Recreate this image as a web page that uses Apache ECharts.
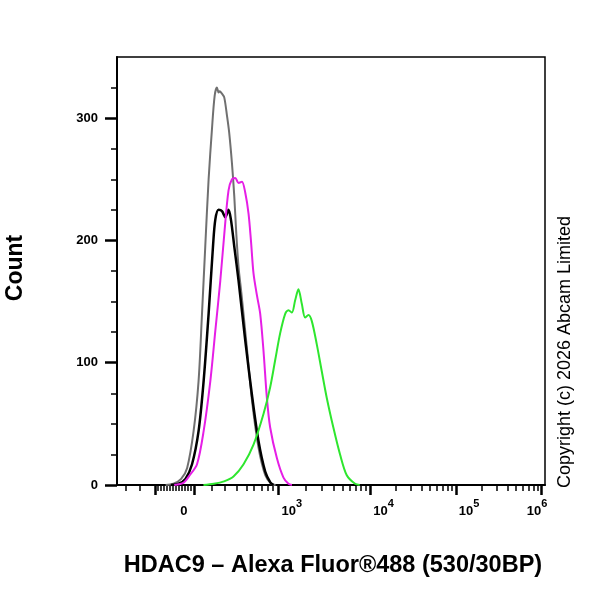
<!DOCTYPE html>
<html>
<head>
<meta charset="utf-8">
<script src="https://cdn.jsdelivr.net/npm/echarts@6/dist/echarts.min.js"></script>
<style>
  html, body { margin: 0; padding: 0; background: #fff; }
  #chart { width: 600px; height: 600px; }
</style>
</head>
<body>
<div id="chart"></div>
<script>
// x is in display units: 10^3 -> ~2.93, 10^4 -> 4, 10^5 -> 5, 10^6 -> 6 (biexponential display)
const xMin = 1.053
const xMax = 6.038

// [x, count] pairs
const grayData = [
  [1.62, 0], [1.71, 1], [1.80, 5], [1.87, 14], [1.945, 44], [2.003, 85], [2.043, 140],
  [2.081, 195], [2.12, 250], [2.159, 291], [2.19, 318], [2.217, 325], [2.236, 321],
  [2.248, 322], [2.276, 320], [2.302, 317], [2.334, 302], [2.36, 288], [2.392, 263],
  [2.419, 236], [2.442, 206], [2.469, 178], [2.50, 158], [2.566, 112], [2.624, 70],
  [2.70, 31], [2.78, 8], [2.85, 1], [2.90, 0]
]
const blackData = [
  [1.68, 0], [1.77, 1], [1.85, 5], [1.927, 17], [2.003, 44], [2.062, 85], [2.12, 140],
  [2.171, 195], [2.198, 217], [2.236, 225], [2.276, 224], [2.314, 219], [2.352, 225],
  [2.38, 217], [2.419, 195], [2.469, 167], [2.547, 118], [2.624, 74], [2.701, 36],
  [2.779, 11], [2.84, 2], [2.876, 0]
]
const magentaData = [
  [1.72, 0], [1.83, 2], [1.90, 8], [1.985, 17], [2.062, 44], [2.14, 85], [2.198, 126],
  [2.256, 167], [2.306, 208], [2.352, 241], [2.392, 250], [2.43, 251], [2.469, 247],
  [2.508, 248], [2.547, 239], [2.585, 222], [2.613, 200], [2.643, 173], [2.683, 155],
  [2.721, 140], [2.759, 110], [2.799, 71], [2.837, 47], [2.915, 22], [2.992, 6],
  [3.05, 1], [3.09, 0]
]
const greenData = [
  [2.06, 0], [2.18, 1], [2.30, 3], [2.41, 7], [2.527, 17], [2.643, 33], [2.759, 58], [2.837, 80],
  [2.895, 102], [2.953, 124], [3.012, 140], [3.05, 143], [3.09, 141], [3.128, 151],
  [3.166, 160], [3.206, 148], [3.244, 137], [3.283, 139], [3.322, 134], [3.38, 115],
  [3.438, 93], [3.497, 71], [3.573, 47], [3.651, 25], [3.729, 8], [3.826, 1], [3.88, 0]
]

// x axis ticks and labels
const xMajorTicks = [1.496, 1.95, 2.928, 4, 5, 6]
const xMinorTicks = [
  1.158, 1.321, 1.531, 1.566, 1.600, 1.635, 1.670, 1.705, 1.740, 1.775, 1.810, 1.845,
  1.880, 1.915, 2.156, 2.311, 2.447, 2.564, 2.649, 2.739, 2.812, 2.870,
  3.25, 3.44, 3.574, 3.678, 3.763, 3.834, 3.896, 3.951,
  4.301, 4.477, 4.602, 4.699, 4.778, 4.845, 4.903, 4.954,
  5.301, 5.477, 5.602, 5.699, 5.778, 5.845, 5.903, 5.954
]
const xLabelPos = [1.833, 3.088, 4.157, 5.153, 5.945]
const xLabelText = ['{n|0}', '{n|10}{s|3}', '{n|10}{s|4}', '{n|10}{s|5}', '{n|10}{s|6}']

const yMajorTicks = [0, 100, 200, 300]
const yMinorTicks = [25, 50, 75, 125, 150, 175, 225, 250, 275, 325]

const font = 'Liberation Sans, Arial, sans-serif'

const chart = echarts.init(document.getElementById('chart'))

function line(name, data, color, width) {
  return {
    name: name,
    type: 'line',
    data: data,
    showSymbol: false,
    smooth: 0.3,
    lineStyle: { color: color, width: width },
    itemStyle: { color: color }
  }
}

chart.setOption({
  animation: false,
  backgroundColor: '#fff',
  grid: {
    left: 117,
    right: 55,
    top: 57,
    bottom: 115,
    show: true,
    borderColor: '#000',
    borderWidth: 1.5
  },
  xAxis: [
    {
      type: 'value',
      position: 'bottom',
      min: xMin,
      max: xMax,
      axisLine: { show: true, onZero: false, lineStyle: { color: '#000', width: 2 } },
      axisTick: { show: true, customValues: xMajorTicks, length: 10, lineStyle: { color: '#000', width: 2.5 } },
      axisLabel: {
        show: true,
        customValues: xLabelPos,
        margin: 12,
        color: '#000',
        formatter: function (v) {
          let best = 0
          xLabelPos.forEach((p, i) => {
            if (Math.abs(p - v) < Math.abs(xLabelPos[best] - v)) best = i
          })
          return xLabelText[best]
        },
        rich: {
          n: { fontSize: 13, fontWeight: 'bold', fontFamily: font, color: '#000', padding: [8, 0, 0, 0] },
          s: { fontSize: 11, fontWeight: 'bold', fontFamily: font, color: '#000', padding: [0, 0, 8, 0] }
        }
      },
      splitLine: { show: false }
    },
    {
      type: 'value',
      position: 'bottom',
      offset: 0,
      min: xMin,
      max: xMax,
      axisLine: { show: false, onZero: false },
      axisTick: { show: true, customValues: xMinorTicks, length: 6, lineStyle: { color: '#000', width: 1.5 } },
      axisLabel: { show: false },
      splitLine: { show: false }
    }
  ],
  yAxis: [
    {
      type: 'value',
      position: 'left',
      min: 0,
      max: 350,
      axisLine: { show: true, onZero: false, lineStyle: { color: '#000', width: 2 } },
      axisTick: { show: true, customValues: yMajorTicks, length: 12, lineStyle: { color: '#000', width: 2.5 } },
      axisLabel: {
        show: true,
        customValues: yMajorTicks,
        margin: 19,
        color: '#000',
        fontSize: 13,
        fontWeight: 'bold',
        fontFamily: font
      },
      splitLine: { show: false }
    },
    {
      type: 'value',
      position: 'left',
      offset: 0,
      min: 0,
      max: 350,
      axisLine: { show: false, onZero: false },
      axisTick: { show: true, customValues: yMinorTicks, length: 6, lineStyle: { color: '#000', width: 1.5 } },
      axisLabel: { show: false },
      splitLine: { show: false }
    }
  ],
  graphic: [
    {
      type: 'text',
      x: 16,
      y: 268,
      rotation: Math.PI / 2,
      style: { text: 'Count', font: 'bold 23px ' + font, fill: '#000', align: 'center', verticalAlign: 'middle' }
    },
    {
      type: 'text',
      x: 333,
      y: 566,
      style: { text: 'HDAC9 – Alexa Fluor®488 (530/30BP)', font: 'bold 23.5px ' + font, fill: '#000', align: 'center', verticalAlign: 'middle' }
    },
    {
      type: 'text',
      x: 565,
      y: 352,
      rotation: Math.PI / 2,
      style: { text: 'Copyright (c) 2026 Abcam Limited', font: '18px ' + font, fill: '#000', align: 'center', verticalAlign: 'middle' }
    }
  ],
  series: [
    line('Gray', grayData, '#707070', 2),
    line('Black', blackData, '#000', 2.5),
    line('Magenta', magentaData, '#e61ee6', 2),
    line('Green', greenData, '#2ee62e', 2)
  ]
})
</script>
</body>
</html>
